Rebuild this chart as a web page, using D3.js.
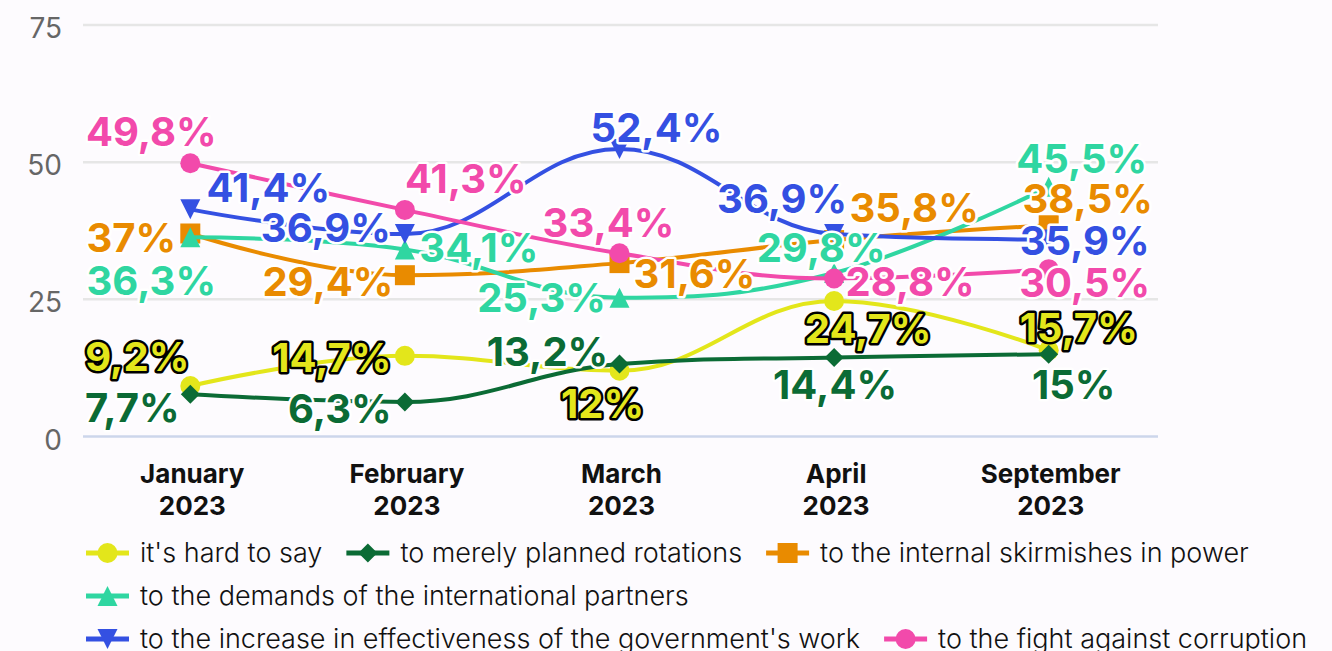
<!DOCTYPE html>
<html>
<head>
<meta charset="utf-8">
<script src="https://cdn.jsdelivr.net/npm/d3@7"></script>
<style>
  body { margin: 0; background: #fdfbfe; }
  svg { display: block; font-family: Inter, "Noto Sans", sans-serif; }
</style>
</head>
<body>
<div id="chart"></div>
<script>
var categories = ["January 2023", "February 2023", "March 2023", "April 2023", "September 2023"];
var seriesNames = [
  "it's hard to say",
  "to merely planned rotations",
  "to the internal skirmishes in power",
  "to the demands of the international partners",
  "to the increase in effectiveness of the government's work",
  "to the fight against corruption"
];
var hardToSay = [9.2, 14.7, 12, 24.7, 15.7];
var plannedRotations = [7.7, 6.3, 13.2, 14.4, 15];
var internalSkirmishes = [37, 29.4, 31.6, 35.8, 38.5];
var partnerDemands = [36.3, 34.1, 25.3, 29.8, 45.5];
var effectiveness = [41.4, 36.9, 52.4, 36.9, 35.9];
var corruption = [49.8, 41.3, 33.4, 28.8, 30.5];
var yTicks = [0, 25, 50, 75];

// styling, kept apart from the values
var colors = ["#e3e61b", "#0b6b35", "#e98b00", "#2fd6a1", "#3450e2", "#f24aab"];
var symbols = ["circle", "diamond", "square", "triangle", "triangle-down", "circle"];
var outlines = ["#000", "#fff", "#fff", "#fff", "#fff", "#fff"];
// label nudges [dx, dy to baseline] so labels do not collide
var labelNudge = [
  [[-53, -15], [-73, 16], [-17, 47], [34, 42], [30, -8]],
  [[-58, 28], [-65, 21], [-72, 2], [1, 42], [25, 45]],
  [[-59, 19], [-77, 21], [75, 25], [80, -18], [39, -12]],
  [[-39, 58], [74, 13], [-78, 14], [-13, -11], [33, -14]],
  [[78, -7], [-79, 8], [37, -7], [-52, -21], [36, 15]],
  [[-39, -17], [61, -17], [-11, -16], [76, 18], [36, 28]]
];

var allSeries = [hardToSay, plannedRotations, internalSkirmishes, partnerDemands, effectiveness, corruption];

var width = 1332, height = 651;
var svg = d3.select("#chart").append("svg")
    .attr("width", width)
    .attr("height", height);

svg.append("rect").attr("width", width).attr("height", height).attr("fill", "#fdfbfe");

var x = d3.scalePoint()
    .domain(categories)
    .range([83, 1156])
    .padding(0.5);

var y = d3.scaleLinear()
    .domain([0, 75])
    .range([436.5, 25]);

// gridlines
svg.append("g")
  .selectAll("line")
  .data(yTicks)
  .enter().append("line")
    .attr("x1", 83)
    .attr("x2", 1158)
    .attr("y1", function(d) { return y(d); })
    .attr("y2", function(d) { return y(d); })
    .attr("stroke", function(d) { return d === 0 ? "#ccd6eb" : "#e6e6e6"; })
    .attr("stroke-width", 2.5);

// y tick labels
svg.append("g")
  .selectAll("text")
  .data(yTicks)
  .enter().append("text")
    .attr("x", 62)
    .attr("y", function(d) { return y(d) + 13; })
    .attr("text-anchor", "end")
    .attr("font-size", 28)
    .attr("fill", "#666")
    .text(function(d) { return d; });

// x labels, two lines
var xl = svg.append("g")
  .selectAll("text")
  .data(categories)
  .enter().append("text")
    .attr("text-anchor", "middle")
    .attr("font-size", 26)
    .attr("font-weight", 700)
    .attr("fill", "#111");
xl.each(function(d) {
  var parts = d.split(" ");
  var t = d3.select(this);
  t.append("tspan").attr("x", x(d) + 2).attr("y", 483).text(parts[0]);
  t.append("tspan").attr("x", x(d) + 2).attr("y", 515).text(parts[1]);
});

// highcharts-like spline
function splinePath(pts) {
  var p = d3.path(), sm = 1.5, den = sm + 1, prevRight = null;
  pts.forEach(function(pt, i) {
    if (i === 0) { p.moveTo(pt[0], pt[1]); return; }
    var last = pts[i - 1], next = pts[i + 1];
    var lcx = pt[0], lcy = pt[1], rc = null;
    if (next) {
      lcx = (sm * pt[0] + last[0]) / den;
      lcy = (sm * pt[1] + last[1]) / den;
      var rcx = (sm * pt[0] + next[0]) / den;
      var rcy = (sm * pt[1] + next[1]) / den;
      var corr = (rcy - lcy) * (rcx - pt[0]) / (rcx - lcx) + pt[1] - rcy;
      lcy += corr; rcy += corr;
      if (lcy > last[1] && lcy > pt[1]) { lcy = Math.max(last[1], pt[1]); rcy = 2 * pt[1] - lcy; }
      else if (lcy < last[1] && lcy < pt[1]) { lcy = Math.min(last[1], pt[1]); rcy = 2 * pt[1] - lcy; }
      if (rcy > next[1] && rcy > pt[1]) { rcy = Math.max(next[1], pt[1]); lcy = 2 * pt[1] - rcy; }
      else if (rcy < next[1] && rcy < pt[1]) { rcy = Math.min(next[1], pt[1]); lcy = 2 * pt[1] - rcy; }
      rc = [rcx, rcy];
    }
    var a = prevRight || last;
    p.bezierCurveTo(a[0], a[1], lcx, lcy, pt[0], pt[1]);
    prevRight = rc;
  });
  return p.toString();
}

function markerPath(type, cx, cy, r) {
  var p = d3.path();
  if (type === "circle") {
    p.moveTo(cx + r, cy); p.arc(cx, cy, r, 0, 2 * Math.PI);
  } else if (type === "diamond") {
    p.moveTo(cx, cy - r); p.lineTo(cx + r, cy); p.lineTo(cx, cy + r); p.lineTo(cx - r, cy); p.closePath();
  } else if (type === "square") {
    p.rect(cx - r, cy - r, 2 * r, 2 * r);
  } else if (type === "triangle") {
    p.moveTo(cx, cy - r); p.lineTo(cx + r, cy + r); p.lineTo(cx - r, cy + r); p.closePath();
  } else {
    p.moveTo(cx - r, cy - r); p.lineTo(cx + r, cy - r); p.lineTo(cx, cy + r); p.closePath();
  }
  return p.toString();
}

var plot = svg.append("g");
allSeries.forEach(function(vals, si) {
  var pts = vals.map(function(v, i) { return [x(categories[i]), y(v)]; });
  var g = plot.append("g");
  g.append("path")
    .attr("d", splinePath(pts))
    .attr("fill", "none")
    .attr("stroke", colors[si])
    .attr("stroke-width", 4)
    .attr("stroke-linecap", "round");
  g.selectAll(".marker")
    .data(pts)
    .enter().append("path")
      .attr("class", "marker")
      .attr("d", function(d) { return markerPath(symbols[si], d[0], d[1], symbols[si] === "diamond" ? 9.5 : 10); })
      .attr("fill", colors[si]);
});

// data labels on top
var labels = svg.append("g");
allSeries.forEach(function(vals, si) {
  labels.selectAll(".lab" + si)
    .data(vals)
    .enter().append("text")
      .attr("class", "lab" + si)
      .attr("x", function(d, i) { return x(categories[i]) + labelNudge[si][i][0]; })
      .attr("y", function(d, i) { return y(d) + labelNudge[si][i][1]; })
      .attr("text-anchor", "middle")
      .attr("font-size", 40)
      .attr("font-weight", 700)
      .attr("fill", colors[si])
      .attr("stroke", outlines[si])
      .attr("stroke-width", 5)
      .attr("stroke-linejoin", "round")
      .attr("paint-order", "stroke")
      .text(function(d) { return String(d).replace(".", ",") + "%"; });
});

// legend, flowing rows
var legend = svg.append("g");
var lx = 86, ly = 553, maxX = 1325;
seriesNames.forEach(function(name, si) {
  var item = legend.append("g");
  item.append("line")
    .attr("x1", 0).attr("x2", 43)
    .attr("y1", 0).attr("y2", 0)
    .attr("stroke", colors[si])
    .attr("stroke-width", 5);
  item.append("path")
    .attr("d", markerPath(symbols[si], 21.5, 0, symbols[si] === "diamond" ? 9.5 : 10))
    .attr("fill", colors[si]);
  var t = item.append("text")
    .attr("x", 54)
    .attr("y", 9)
    .attr("font-size", 27)
    .attr("font-weight", 300)
    .attr("fill", "#111")
    .text(name);
  var w = 54 + t.node().getComputedTextLength();
  if (lx + w > maxX) { lx = 86; ly += 43; }
  item.attr("transform", "translate(" + lx + "," + ly + ")");
  lx += w + 24;
});
</script>
</body>
</html>
